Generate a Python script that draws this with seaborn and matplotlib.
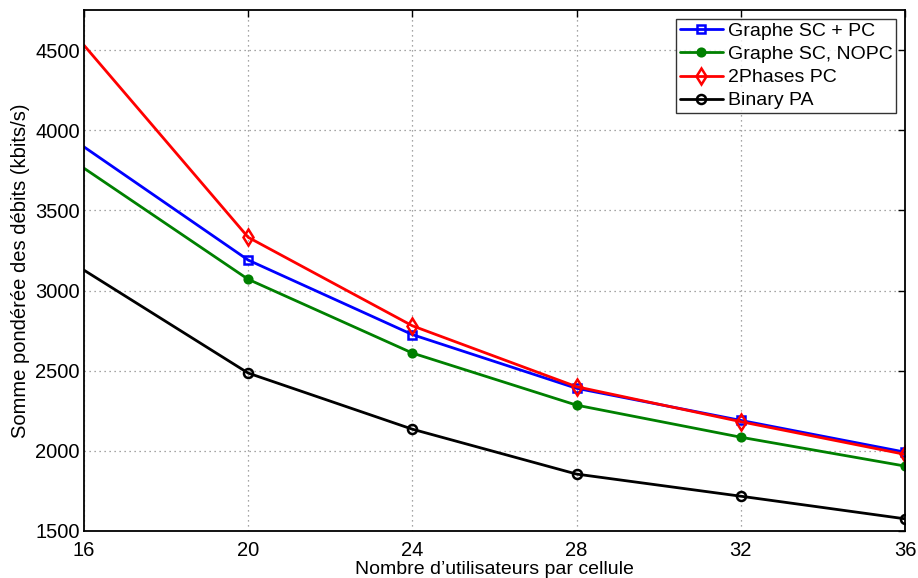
import matplotlib
matplotlib.use("Agg")
import matplotlib.pyplot as plt
import seaborn as sns
import pandas as pd

users = [16, 20, 24, 28, 32, 36]
graphe_sc_pc = [3896, 3190, 2725, 2390, 2190, 1992]
graphe_sc_nopc = [3763, 3070, 2610, 2285, 2085, 1905]
two_phases_pc = [4530, 3332, 2780, 2400, 2182, 1978]
binary_pa = [3127, 2485, 2135, 1855, 1717, 1576]

series_names = ["Graphe SC + PC", "Graphe SC, NOPC", "2Phases PC", "Binary PA"]
series_values = [graphe_sc_pc, graphe_sc_nopc, two_phases_pc, binary_pa]

sns.set_style("white")
plt.rcParams['font.family'] = ['Liberation Sans', 'DejaVu Sans']
plt.rcParams['text.color'] = 'black'
plt.rcParams['axes.labelcolor'] = 'black'
plt.rcParams['xtick.color'] = 'black'
plt.rcParams['ytick.color'] = 'black'

fig = plt.figure(figsize=(9.18, 5.78), dpi=100)
ax = fig.add_axes([84/918, 47/578, (905-84)/918, (531-10)/578])

styles = {
    "Graphe SC + PC": dict(color="#0000ff", marker="s", mfc="none", ms=5.5),
    "Graphe SC, NOPC": dict(color="#008000", marker="o", mfc="#008000", ms=5.5),
    "2Phases PC": dict(color="#ff0000", marker="d", mfc="none", ms=8),
    "Binary PA": dict(color="#000000", marker="o", mfc="none", ms=6.5),
}

for name, vals in zip(series_names, series_values):
    df = pd.DataFrame({"x": users, "y": vals})
    st = styles[name]
    sns.lineplot(data=df, x="x", y="y", ax=ax, color=st["color"], lw=2,
                 marker=st["marker"], markersize=st["ms"], markerfacecolor=st["mfc"],
                 markeredgecolor=st["color"], markeredgewidth=1.8, label=name,
                 markevery=list(range(1, len(users))))

ax.set_xlim(16, 36)
ax.set_ylim(1500, 4750)
ax.set_xticks(users)
ax.set_yticks([1500, 2000, 2500, 3000, 3500, 4000, 4500])
ax.grid(True, which="major", linestyle=(0, (1, 3)), color="#888888", linewidth=0.9)
ax.tick_params(axis="both", direction="in", top=True, right=True, length=5, width=1,
               labelsize=14.5, colors="black")
ax.tick_params(axis="x", pad=7)
ax.tick_params(axis="y", pad=3)
for sp in ax.spines.values():
    sp.set_color("black")
    sp.set_linewidth(1.3)
ax.set_xlabel("Nombre d’utilisateurs par cellule", fontsize=14, labelpad=1)
ax.set_ylabel("Somme pondérée des débits (kbits/s)", fontsize=14.5, labelpad=4)

leg = ax.legend(loc="upper right", fontsize=14, frameon=True, fancybox=False,
                edgecolor="black", borderpad=0.2, labelspacing=0.28, handlelength=2.2,
                handletextpad=0.25, borderaxespad=0.45)
leg.get_frame().set_linewidth(1.0)

fig.savefig("out.png", dpi=100)
